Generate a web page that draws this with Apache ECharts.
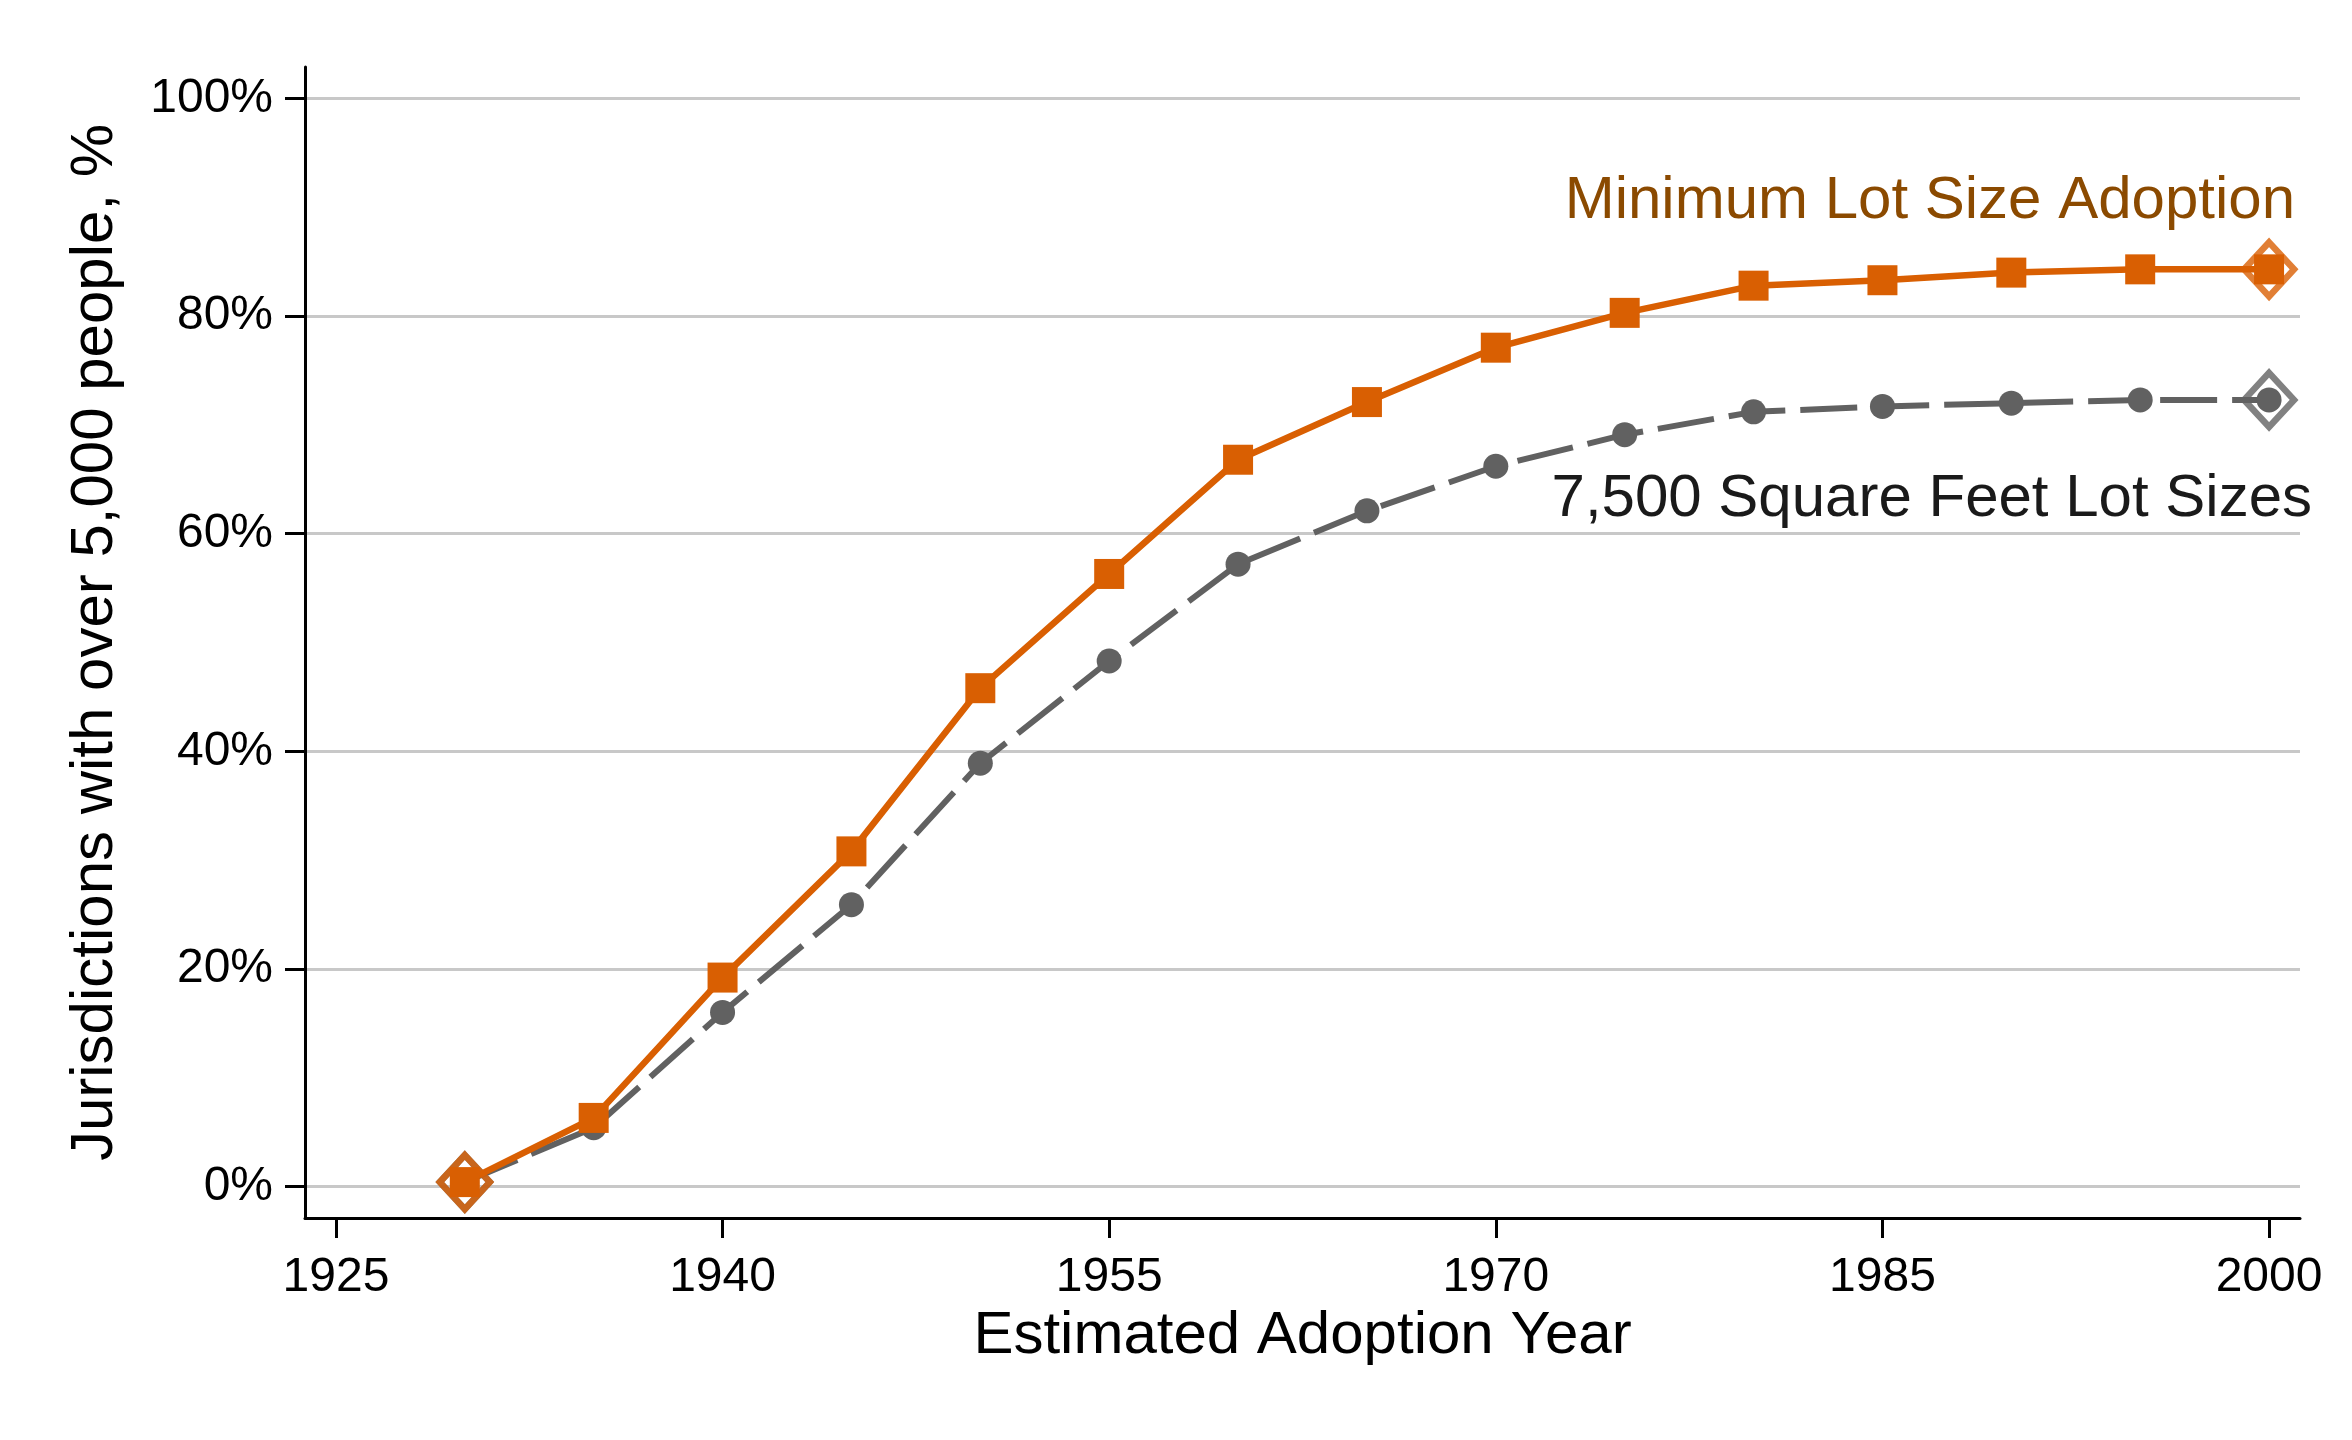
<!DOCTYPE html>
<html>
<head>
<meta charset="utf-8">
<script src="https://cdn.jsdelivr.net/npm/echarts@6/dist/echarts.min.js"></script>
<style>
html,body{margin:0;padding:0;background:#fff;}
#chart{width:2352px;height:1440px;}
</style>
</head>
<body>
<div id="chart"></div>
<script>
const years = [1930,1935,1940,1945,1950,1955,1960,1965,1970,1975,1980,1985,1990,1995,2000];
const minLotSize = [0.4,6.3,19.2,30.8,45.8,56.3,66.8,72.1,77.1,80.3,82.8,83.3,84.0,84.3,84.3];
const lot7500 = [0.4,5.4,16.0,25.9,38.9,48.3,57.2,62.1,66.2,69.1,71.2,71.7,72.0,72.3,72.3];
const yTicks = [0,20,40,60,80,100];
const xTicks = [1925,1940,1955,1970,1985,2000];
const labelMin = 'Minimum Lot Size Adoption';
const label7500 = '7,500 Square Feet Lot Sizes';

const ORANGE = '#D95F02';
const GRAY = '#616161';
const FONT = 'Liberation Sans';

const pairs = (xs, ys) => xs.map((x, i) => [x, ys[i]]);
const ends = (xs, ys) => [[xs[0], ys[0]], [xs[xs.length-1], ys[ys.length-1]]];

const chart = echarts.init(document.getElementById('chart'), null, {renderer: 'canvas'});
chart.setOption({
  backgroundColor: '#fff',
  animation: false,
  grid: {left: 305, right: 52, top: 67, bottom: 222, containLabel: false},
  xAxis: {
    type: 'value', min: 1923.8, max: 2001.2,
    name: 'Estimated Adoption Year', nameLocation: 'middle', nameGap: 80,
    nameTextStyle: {fontFamily: FONT, fontSize: 60, color: '#000'},
    axisLine: {show: true, onZero: false, lineStyle: {color: '#000', width: 3}},
    axisTick: {show: true, length: 20, lineStyle: {color: '#000', width: 3}, customValues: xTicks},
    axisLabel: {fontFamily: FONT, fontSize: 48, color: '#000', margin: 36, customValues: xTicks,
      formatter: v => String(v)},
    splitLine: {show: false}
  },
  yAxis: {
    type: 'value', min: -2.9, max: 102.9,
    name: 'Jurisdictions with over 5,000 people, %', nameLocation: 'middle', nameGap: 180,
    nameTextStyle: {fontFamily: FONT, fontSize: 60, color: '#000'},
    axisLine: {show: true, onZero: false, lineStyle: {color: '#000', width: 3}},
    axisTick: {show: true, length: 20, lineStyle: {color: '#000', width: 3}, customValues: yTicks},
    axisLabel: {fontFamily: FONT, fontSize: 48, color: '#000', margin: 32, customValues: yTicks,
      formatter: v => v + '%'},
    splitLine: {show: true, lineStyle: {color: '#c8c8c8', width: 3}}
  },
  series: [
    {
      type: 'line', name: label7500, data: pairs(years, lot7500), z: 2,
      symbol: 'circle', symbolSize: 25,
      lineStyle: {color: GRAY, width: 6, type: [57, 15]},
      itemStyle: {color: GRAY}
    },
    {
      type: 'scatter', data: ends(years, lot7500), z: 3,
      symbol: 'diamond', symbolSize: [50, 54],
      itemStyle: {color: 'rgba(0,0,0,0)', borderColor: GRAY, borderWidth: 6.5}
    },
    {
      type: 'line', name: labelMin, data: pairs(years, minLotSize), z: 4,
      symbol: 'rect', symbolSize: 30,
      lineStyle: {color: ORANGE, width: 6.5},
      itemStyle: {color: ORANGE}
    },
    {
      type: 'scatter', data: ends(years, minLotSize), z: 5,
      symbol: 'diamond', symbolSize: [50, 54],
      itemStyle: {color: 'rgba(0,0,0,0)', borderColor: ORANGE, borderWidth: 6.5}
    }
  ],
  graphic: [
    {type: 'text', right: 57, top: 171, z: 10,
      style: {text: labelMin, fontFamily: FONT, fontSize: 60, fill: '#8B4A00'}},
    {type: 'text', right: 40, top: 469, z: 10,
      style: {text: label7500, fontFamily: FONT, fontSize: 60, fill: '#1a1a1a'}}
  ]
});
</script>
</body>
</html>
